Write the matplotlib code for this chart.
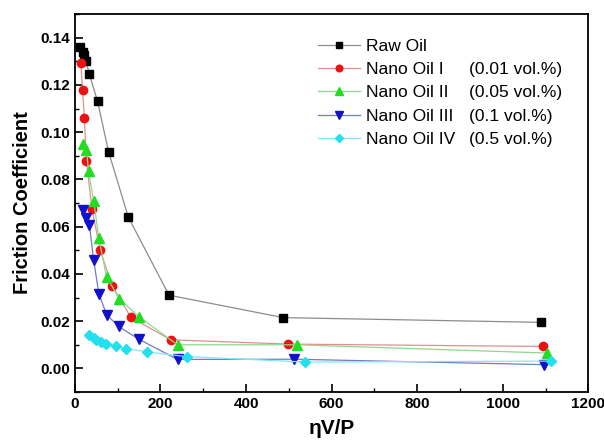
import numpy as np
import matplotlib
matplotlib.use("Agg")
import matplotlib.pyplot as plt
from matplotlib.ticker import MultipleLocator

plt.rcParams['font.family'] = ['Liberation Sans', 'DejaVu Sans']

# data
raw_x = [13, 18, 21, 26, 34, 53, 79, 125, 220, 487, 1089]
raw_y = [0.136, 0.134, 0.1325, 0.130, 0.1245, 0.113, 0.0915, 0.064, 0.031, 0.0215, 0.0195]

n1_x = [14, 18, 22, 27, 40, 59, 87, 131, 224, 498, 1094]
n1_y = [0.1294, 0.1177, 0.1062, 0.0877, 0.0674, 0.050, 0.0351, 0.0216, 0.0121, 0.0103, 0.0093]

n2_x = [20, 27, 32, 44, 56, 74, 104, 150, 240, 519, 1104]
n2_y = [0.0948, 0.0923, 0.0834, 0.0708, 0.0551, 0.0388, 0.0294, 0.0218, 0.0100, 0.0100, 0.0065]

n3_x = [20, 27, 34, 44, 56, 74, 102, 149, 240, 513, 1096]
n3_y = [0.0669, 0.0635, 0.0606, 0.0457, 0.0316, 0.0228, 0.0178, 0.0124, 0.0038, 0.0039, 0.0016]

n4_x = [34, 44, 50, 61, 73, 95, 120, 168, 261, 539, 1112]
n4_y = [0.0143, 0.0129, 0.0121, 0.0111, 0.0104, 0.0094, 0.0084, 0.0070, 0.0050, 0.0027, 0.0031]

names = ['Raw Oil', 'Nano Oil I', 'Nano Oil II', 'Nano Oil III', 'Nano Oil IV']
conc = ['', '(0.01 vol.%)', '(0.05 vol.%)', '(0.1 vol.%)', '(0.5 vol.%)']

fig = plt.figure(figsize=(6.04, 4.40), dpi=100)
ax = fig.add_axes([0.124, 0.109, 0.850, 0.859])

ax.plot(raw_x, raw_y, color='#8c8c8c', lw=0.9, marker='s', ms=5.5, mfc='black', mec='black', label=names[0])
ax.plot(n1_x, n1_y, color='#e09090', lw=0.9, marker='o', ms=6, mfc='#ee1111', mec='#ee1111', label=names[1])
ax.plot(n2_x, n2_y, color='#90d890', lw=0.9, marker='^', ms=6.5, mfc='#22dd22', mec='#22dd22', label=names[2])
ax.plot(n3_x, n3_y, color='#6f7fbf', lw=0.9, marker='v', ms=6.5, mfc='#1111cc', mec='#1111cc', label=names[3])
ax.plot(n4_x, n4_y, color='#80e8f0', lw=0.9, marker='D', ms=5, mfc='#22e0ee', mec='#22e0ee', label=names[4])

ax.set_xlim(0, 1200)
ax.set_ylim(-0.01, 0.15)
ax.xaxis.set_major_locator(MultipleLocator(200))
ax.xaxis.set_minor_locator(MultipleLocator(100))
ax.yaxis.set_major_locator(MultipleLocator(0.02))
ax.yaxis.set_minor_locator(MultipleLocator(0.01))
ax.set_yticks(np.arange(0, 0.141, 0.02))
ax.yaxis.set_major_formatter(matplotlib.ticker.FormatStrFormatter('%.2f'))
ax.tick_params(which='major', direction='in', length=6, width=1.2, labelsize=11)
ax.tick_params(which='minor', direction='in', length=3, width=1.0)
for lab in ax.get_xticklabels() + ax.get_yticklabels():
    lab.set_fontweight('bold')
for s in ax.spines.values():
    s.set_linewidth(1.3)

ax.set_xlabel('ηV/P', fontsize=15, fontweight='bold', labelpad=6)
ax.set_ylabel('Friction Coefficient', fontsize=14.5, fontweight='bold', labelpad=6)

leg = ax.legend(loc='upper left', bbox_to_anchor=(0.474, 0.935), frameon=False,
                fontsize=12.5, handlelength=2.4, handletextpad=0.35, labelspacing=0.47,
                borderaxespad=0, borderpad=0, markerscale=0.8)

fig.canvas.draw()
inv = fig.transFigure.inverted()
x_col = 469 / 604
for t, c in zip(leg.get_texts(), conc):
    if not c:
        continue
    bb = t.get_window_extent()
    yc = inv.transform((0, (bb.y0 + bb.y1) / 2))[1]
    fig.text(x_col, yc, c, fontsize=12.5, va='center', ha='left')

fig.savefig('out.png', dpi=100)
